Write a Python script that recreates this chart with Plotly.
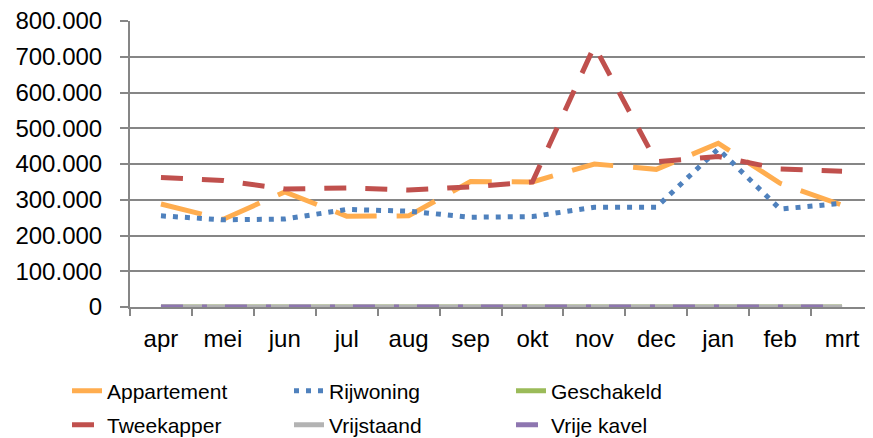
import plotly.graph_objects as go

months = ["apr", "mei", "jun", "jul", "aug", "sep", "okt", "nov", "dec", "jan", "feb", "mrt"]
appartement = [288000, 245000, 322000, 254000, 255000, 351000, 350000, 400000, 385000, 458000, 346000, 285000]
rijwoning = [255000, 244000, 246000, 273000, 268000, 251000, 253000, 279000, 279000, 442000, 274000, 290000]
geschakeld = [0] * 12
tweekapper = [362000, 354000, 330000, 333000, 327000, 336000, 350000, 730000, 406000, 421000, 386000, 380000]
vrijstaand = [0] * 12
vrije_kavel = [0] * 12

series = [
    ("Appartement", appartement, "#FFAD4F", "42px,20px", "legend"),
    ("Rijwoning", rijwoning, "#4F81BD", "5px,7px", "legend"),
    ("Geschakeld", geschakeld, "#9BBB59", "solid", "legend"),
    ("Tweekapper", tweekapper, "#C0504D", "22px,19px", "legend2"),
    ("Vrijstaand", vrijstaand, "#B3B3B3", "solid", "legend2"),
    ("Vrije kavel", vrije_kavel, "#8E76B0", "22px,19px,5px,18px", "legend2"),
]

fig = go.Figure()
for name, vals, color, dash, leg in series:
    fig.add_trace(go.Scatter(
        x=months, y=vals, name=name, mode="lines",
        line=dict(color=color, width=5, dash=dash),
        legend=leg,
    ))

# page body has an 8px default margin; the figure is sized to fill the rest
W, H = 865, 430
font = "Liberation Sans, Arial, sans-serif"
leg_common = dict(orientation="h", xref="container", yref="container",
                  x=59 / W, xanchor="left", yanchor="middle",
                  entrywidth=177, entrywidthmode="pixels",
                  font=dict(size=21, family=font), bgcolor="rgba(0,0,0,0)")
fig.update_layout(
    width=W, height=H,
    margin=dict(l=122, r=0, t=13, b=131),
    paper_bgcolor="white", plot_bgcolor="white",
    separators=",.",
    font=dict(family=font, color="black", size=24),
    showlegend=True,
    legend=dict(leg_common, y=1 - 383 / H),
    legend2=dict(leg_common, y=1 - 417 / H),
)
fig.update_xaxes(
    type="category", showgrid=False, showline=True, linecolor="#868686", linewidth=2,
    ticks="outside", tickson="boundaries", ticklen=7, tickcolor="#868686", tickwidth=2,
    tickfont=dict(size=24), range=[-0.5, 11.5], automargin=False, ticklabelstandoff=9,
    ticklabeloverflow="allow",
)
fig.update_yaxes(
    range=[0, 800000], dtick=100000, tickformat=",.0f",
    showgrid=True, gridcolor="#868686", gridwidth=2,
    showline=True, linecolor="#868686", linewidth=2,
    ticks="outside", ticklen=8, tickcolor="#868686", tickwidth=2,
    tickfont=dict(size=24), zeroline=False, automargin=False, ticklabelstandoff=13,
    ticklabeloverflow="allow",
)

fig.write_html("out.html")
